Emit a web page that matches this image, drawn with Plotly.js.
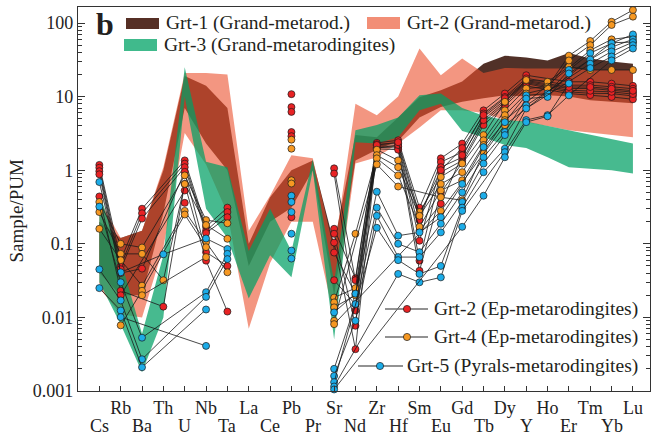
<!DOCTYPE html>
<html><head><meta charset="utf-8">
<script src="https://cdn.plot.ly/plotly-3.0.1.min.js"></script>
<style>html,body{margin:0;padding:0;background:#fff}#chart{width:654px;height:436px}</style>
</head><body><div id="chart"></div>
<script>
// ---------------- DATA ----------------
const elements = ['Cs','Rb','Ba','Th','U','Nb','Ta','La','Ce','Pb','Pr','Sr','Nd','Zr','Hf','Sm','Eu','Gd','Tb','Dy','Y','Ho','Er','Tm','Yb','Lu'];
const yTickVals = [0.001, 0.01, 0.1, 1, 10, 100];
const yTickText = ['0.001', '0.01', '0.1', '1', '10', '100'];

// Fields (bands): upper / lower envelopes
const grt1Upper = [0.2,0.12,0.15,1.0,19,14,7,0.1,0.43,1.0,1.35,0.1,3.0,2.8,5.2,9.8,12.2,16,28,36,34,31,39,33,30,28];
const grt1Lower = [0.04,0.02,0.02,0.26,7,2.3,1.0,0.05,0.2,0.31,1.0,0.02,1.35,1.9,2.5,5.2,7.2,8.5,9.5,10.4,10,10.4,10,8.9,8.5,8.1];
const grt2Upper = [0.4,0.12,0.15,1.1,21,21,20,0.15,0.45,1.6,1.45,0.08,8,5.6,10,45,19.5,33,21,24.5,24,24,24,23,23,23];
const grt2Lower = [0.025,0.011,0.010,0.09,3.2,1.2,0.26,0.007,0.055,0.2,0.2,0.01,1.23,1.5,2.3,3.8,6.5,6.5,6.0,4.8,4.5,4.0,3.5,3.2,3.0,2.8];
const grt3Upper = [0.5,0.06,0.006,0.07,25,1.3,1.1,0.08,0.3,0.08,1.4,0.03,3.5,4.1,5.2,10.4,11,7,5.5,4.8,4.6,4.0,3.5,3.0,2.6,2.3];
const grt3Lower = [0.03,0.008,0.0018,0.01,10,0.3,0.12,0.018,0.07,0.035,1.0,0.005,2.4,2.3,2.8,6.5,8,3.4,2.8,2.2,2.0,1.5,1.1,1.05,1.0,0.9];

const n = null;
// Grt-2 (Ep-metarodingites) samples
const grt2Ep = [
  [1.18,0.060,0.30,n,1.36,0.17,0.31,n,n,10.8,n,0.16,0.034,2.35,2.55,0.31,1.45,2.3,6.5,11,19.5,n,15.9,15.9,15,14],
  [1.08,0.050,0.26,n,1.23,0.15,0.27,n,n,7.2,n,1.06,0.032,2.25,2.3,0.21,1.29,1.76,5.9,9.9,17.7,n,14.3,14.3,13.6,12.8],
  [0.97,0.045,0.22,n,1.10,0.14,0.23,n,n,6.2,n,0.90,0.0124,2.15,2.1,0.11,1.10,1.5,5.3,8.9,16,n,12.9,12.9,12.2,11.5],
  [0.88,0.040,0.046,n,0.95,0.077,0.05,n,n,3.3,n,0.137,0.0077,2.05,2.0,0.059,0.94,1.35,4.5,8.0,15,n,11.6,11.1,11,10.2],
  [0.44,0.023,n,0.014,0.65,0.059,0.012,n,n,2.9,n,0.104,0.0037,1.95,1.9,0.043,0.5,1.25,4.1,7.5,14,n,11,10.5,9.9,9.2],
  [n,0.020,n,n,0.53,n,n,n,n,0.23,n,0.076,0.021,2.0,2.2,0.15,0.35,1.6,4.8,8.5,15.5,n,12.2,12,11.6,10.8],
  [n,n,n,n,0.36,n,n,n,n,n,n,0.032,0.015,2.2,2.4,0.25,1.0,2.0,5.6,9.5,16.5,n,13.5,13.5,12.8,12]
];
// Grt-4 (Ep-metarodingites) samples
const grt4Ep = [
  [0.37,0.10,0.089,n,0.85,0.21,0.19,n,n,2.6,n,0.0186,0.025,1.9,1.36,0.27,0.81,1.23,3.0,8.5,16.8,15.9,25.5,23,23,23],
  [0.27,0.073,0.073,0.032,0.65,0.18,0.117,n,n,1.96,n,0.016,0.137,1.6,1.1,0.24,0.65,0.94,2.55,6.5,12.9,13.6,36,57,104,150],
  [0.16,0.06,0.027,n,0.28,0.105,0.041,n,n,0.73,n,0.0137,0.02,1.45,0.85,0.17,0.53,0.73,2.2,5.6,11,12.9,31,50,94,122],
  [n,0.0078,0.023,n,0.25,0.09,n,n,n,0.66,n,0.009,n,1.2,0.6,n,0.43,0.39,1.76,4.8,n,n,n,42.5,60,65],
  [n,n,0.020,n,n,0.066,n,n,n,n,n,0.0081,n,n,n,n,0.28,n,n,4.1,n,n,n,n,54,55]
];
// Grt-5 (Pyrals-metarodingites) samples
const grt5Py = [
  [0.69,0.041,n,0.072,n,0.118,0.085,n,n,0.45,n,0.0117,0.021,0.51,0.129,0.143,0.23,0.65,2.06,4.5,10.4,11,23,39,53,70],
  [0.32,0.030,0.0053,n,n,0.022,0.073,n,n,0.37,n,0.002,0.0152,0.31,0.1,0.077,0.187,0.5,1.5,3.3,9.4,9.9,20.6,32,47,60],
  [0.045,0.017,0.0027,n,n,0.019,0.062,n,n,0.27,n,0.0016,0.009,0.24,0.066,0.066,0.143,0.37,1.23,3.0,7.6,n,n,28,41,55],
  [0.025,0.0124,0.0021,n,n,0.0128,n,n,n,0.137,n,0.00132,n,0.165,0.06,0.039,0.05,0.31,0.94,1.96,6.9,n,n,24.4,35,50],
  [n,0.0101,n,n,n,0.0041,n,n,n,0.081,n,0.00115,n,n,0.039,0.030,0.035,0.28,n,1.76,4.8,5.6,10.4,n,31,45],
  [n,n,n,n,n,n,n,n,n,0.063,n,0.00105,n,n,n,n,n,0.17,0.45,1.5,4.5,5.4,15.1,n,n,n]
];
// element groups that are joined by lines (La, Ce, Pr not analysed)
const lineGroups = [[0,6],[9,9],[11,25]];

// ---------------- STYLE / LAYOUT HELPERS ----------------
const FONT = 'Liberation Serif, Times New Roman, serif';
const PL = 78, PR = 650, PT = 7, PB = 391;
const px = p => (p - PL) / (PR - PL);
const py = p => (PB - p) / (PB - PT);
const idx = elements.map((_, i) => i);

function band(upper, lower, color) {
  return {x: idx.concat(idx.slice().reverse()), y: upper.concat(lower.slice().reverse()),
    type: 'scatter', mode: 'lines', fill: 'toself', fillcolor: color, line: {width: 0},
    hoverinfo: 'skip', showlegend: false};
}
function sample(vals, color) {
  const x = [], y = [];
  lineGroups.forEach(([a, b]) => {
    for (let i = a; i <= b; i++) if (vals[i] != null) { x.push(i); y.push(vals[i]); }
    x.push(null); y.push(null);
  });
  return {x, y, type: 'scatter', mode: 'lines+markers', cliponaxis: false,
    line: {color: '#1a1a1a', width: 0.8},
    marker: {size: 7, color: color, line: {color: '#1a1a1a', width: 0.7}},
    hoverinfo: 'skip', showlegend: false};
}

const RED = 'rgb(232,34,36)', ORANGE = 'rgb(246,152,34)', BLUE = 'rgb(28,172,232)';
const traces = [
  band(grt1Upper, grt1Lower, 'rgba(72,38,28,0.95)'),
  band(grt2Upper, grt2Lower, 'rgba(235,80,45,0.6)'),
  band(grt3Upper, grt3Lower, 'rgba(0,160,100,0.72)')
];
grt2Ep.forEach(s => traces.push(sample(s, RED)));
grt4Ep.forEach(s => traces.push(sample(s, ORANGE)));
grt5Py.forEach(s => traces.push(sample(s, BLUE)));

const minorVals = [];
for (let e = -3; e <= 2; e++) for (let m = 2; m <= 9; m++) minorVals.push(m * Math.pow(10, e));

const annotations = [];
// lower row of element labels
idx.filter(i => i % 2 === 0).forEach(i => annotations.push({
  x: i, xref: 'x', y: py(425.8), yref: 'paper', text: elements[i], showarrow: false,
  xanchor: 'center', yanchor: 'middle', font: {family: FONT, size: 18, color: '#222'}}));
// panel letter, y title
annotations.push({x: px(94), y: py(24.5), xref: 'paper', yref: 'paper', text: '<b>b</b>', showarrow: false,
  xanchor: 'left', yanchor: 'middle', font: {family: FONT, size: 32, color: '#231f20'}});
annotations.push({x: px(15.5), y: py(211), xref: 'paper', yref: 'paper', text: 'Sample/PUM', showarrow: false,
  textangle: -90, xanchor: 'center', yanchor: 'middle', font: {family: FONT, size: 19, color: '#222'}});
// field legend
const fieldLegend = [
  {x0: 126, x1: 159, y0: 18, y1: 29, c: 'rgb(86,47,37)', tx: 164, ty: 23.3, t: 'Grt-1 (Grand-metarod.)'},
  {x0: 367, x1: 400, y0: 17, y1: 29, c: 'rgb(242,142,118)', tx: 405, ty: 23.3, t: 'Grt-2 (Grand-metarod.)'},
  {x0: 124, x1: 157, y0: 39, y1: 51, c: 'rgb(64,186,140)', tx: 162, ty: 44.5, t: 'Grt-3 (Grand-metarodingites)'}
];
const shapes = [];
fieldLegend.forEach(f => {
  shapes.push({type: 'rect', xref: 'paper', yref: 'paper', x0: px(f.x0), x1: px(f.x1), y0: py(f.y1), y1: py(f.y0),
    fillcolor: f.c, line: {width: 0}});
  annotations.push({x: px(f.tx), y: py(f.ty), xref: 'paper', yref: 'paper', text: f.t, showarrow: false,
    xanchor: 'left', yanchor: 'middle', font: {family: FONT, size: 19.5, color: '#231f20'}});
});
// sample legend
const sampleLegend = [
  {l0: 385, l1: 428, m: 407, y: 309, c: RED, t: 'Grt-2 (Ep-metarodingites)'},
  {l0: 385, l1: 428, m: 407, y: 337, c: ORANGE, t: 'Grt-4 (Ep-metarodingites)'},
  {l0: 358, l1: 403, m: 380, y: 366, c: BLUE, t: 'Grt-5 (Pyrals-metarodingites)'}
];
sampleLegend.forEach(s => {
  shapes.push({type: 'line', xref: 'paper', yref: 'paper', x0: px(s.l0), x1: px(s.l1), y0: py(s.y), y1: py(s.y),
    line: {color: 'rgb(110,110,110)', width: 1.5}});
  shapes.push({type: 'circle', xref: 'paper', yref: 'paper', x0: px(s.m - 3.6), x1: px(s.m + 3.6),
    y0: py(s.y + 3.6), y1: py(s.y - 3.6), fillcolor: s.c, line: {color: '#1a1a1a', width: 0.7}});
  annotations.push({x: px(640), y: py(s.y - 0.5), xref: 'paper', yref: 'paper', text: s.t, showarrow: false,
    xanchor: 'right', yanchor: 'middle', font: {family: FONT, size: 19.5, color: '#231f20'}});
});

const layout = {
  width: 654, height: 436,
  margin: {l: PL, r: 654 - PR, t: PT, b: 436 - PB},
  paper_bgcolor: '#fff', plot_bgcolor: '#fff',
  font: {family: FONT, color: '#222'},
  showlegend: false,
  xaxis: {range: [-1, 25.8], tickmode: 'array', tickvals: idx,
    ticktext: elements.map((e, i) => i % 2 === 1 ? e : ''),
    ticks: 'inside', ticklen: 5, tickwidth: 1, tickcolor: '#333',
    showline: true, linecolor: '#333', linewidth: 1.2, mirror: true,
    showgrid: false, zeroline: false, tickfont: {family: FONT, size: 18, color: '#222'}},
  yaxis: {type: 'log', range: [-3, Math.log10(165)], tickmode: 'array', tickvals: yTickVals, ticktext: yTickText,
    ticks: 'inside', ticklen: 7, tickwidth: 1, tickcolor: '#333',
    minor: {tickmode: 'array', tickvals: minorVals, ticks: 'inside', ticklen: 4, tickwidth: 1, tickcolor: '#333'},
    showline: true, linecolor: '#333', linewidth: 1.2, mirror: 'ticks',
    showgrid: false, zeroline: false, tickfont: {family: FONT, size: 18, color: '#222'}},
  annotations: annotations,
  shapes: shapes
};
Plotly.newPlot('chart', traces, layout, {displayModeBar: false, staticPlot: true});
</script></body></html>
